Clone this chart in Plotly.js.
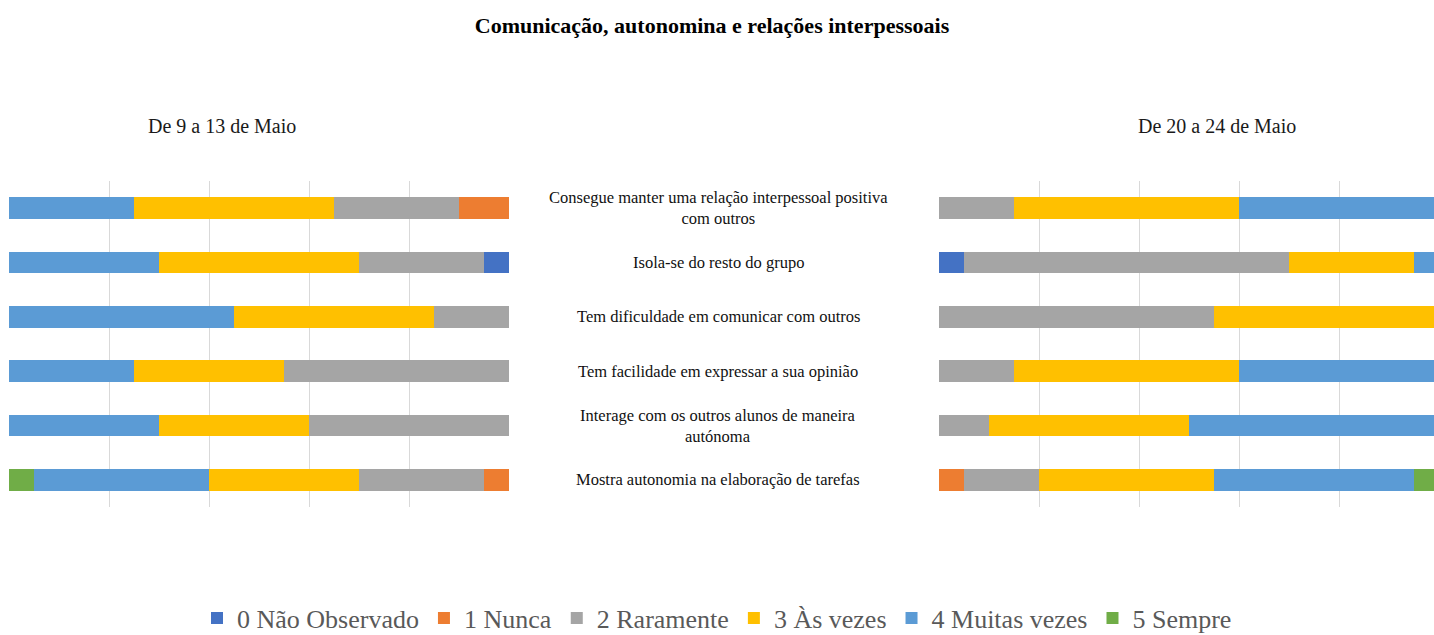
<!DOCTYPE html>
<html>
<head>
<meta charset="utf-8">
<script src="https://cdn.plot.ly/plotly-3.0.1.min.js"></script>
<style>html,body{margin:0;padding:0;background:#fff;}#chart{width:1434px;height:635px;}</style>
</head>
<body>
<div id="chart"></div>
<script>
const categories = [
  "Consegue manter uma relação interpessoal positiva<br>com outros",
  "Isola-se do resto do grupo",
  "Tem dificuldade em comunicar com outros",
  "Tem facilidade em expressar a sua opinião",
  "Interage com os outros alunos de maneira<br>autónoma",
  "Mostra autonomia na elaboração de tarefas"
];
const levels = ["0 Não Observado", "1 Nunca", "2 Raramente", "3 Às vezes", "4 Muitas vezes", "5 Sempre"];
const colors = ["#4472C4", "#ED7D31", "#A5A5A5", "#FFC000", "#5B9BD5", "#70AD47"];
const panelTitles = ["De 9 a 13 de Maio", "De 20 a 24 de Maio"];
const mainTitle = "Comunicação, autonomina e relações interpessoais";

// percentages per level (rows follow categories order)
const week1 = {
  "0 Não Observado": [0, 5, 0, 0, 0, 0],
  "1 Nunca":         [10, 0, 0, 0, 0, 5],
  "2 Raramente":     [25, 25, 15, 45, 40, 25],
  "3 Às vezes":      [40, 40, 40, 30, 30, 30],
  "4 Muitas vezes":  [25, 30, 45, 25, 30, 35],
  "5 Sempre":        [0, 0, 0, 0, 0, 5]
};
const week2 = {
  "0 Não Observado": [0, 5, 0, 0, 0, 0],
  "1 Nunca":         [0, 0, 0, 0, 0, 5],
  "2 Raramente":     [15, 65, 55, 15, 10, 15],
  "3 Às vezes":      [45, 25, 45, 45, 40, 35],
  "4 Muitas vezes":  [40, 5, 0, 40, 50, 40],
  "5 Sempre":        [0, 0, 0, 0, 0, 5]
};

const traces = [];
levels.forEach((lv, i) => {
  traces.push({
    type: 'bar', orientation: 'h', name: lv, legendgroup: lv,
    x: week1[lv], y: categories, xaxis: 'x', yaxis: 'y',
    marker: {color: colors[i], line: {width: 0}}, showlegend: true,
    hoverinfo: 'x+name'
  });
  traces.push({
    type: 'bar', orientation: 'h', name: lv, legendgroup: lv,
    x: week2[lv], y: categories, xaxis: 'x2', yaxis: 'y2',
    marker: {color: colors[i], line: {width: 0}}, showlegend: false,
    hoverinfo: 'x+name'
  });
});

const H = 635, T = 181, B = 128, PH = H - T - B;
const serif = "'Liberation Serif', 'Times New Roman', serif";
const annotations = categories.map(c => ({
  text: c, xref: 'paper', yref: 'y', x: 718/1434, y: c,
  showarrow: false, align: 'center', xanchor: 'center', yanchor: 'middle',
  font: {family: serif, size: 16.5, color: '#111'}
}));
const subY = 1 + (T - 126)/PH;
annotations.push({text: panelTitles[0], xref: 'paper', yref: 'paper', x: 222/1434, y: subY,
  showarrow: false, xanchor: 'center', yanchor: 'middle', font: {family: serif, size: 20, color: '#1a1a1a'}});
annotations.push({text: panelTitles[1], xref: 'paper', yref: 'paper', x: 1217/1434, y: subY,
  showarrow: false, xanchor: 'center', yanchor: 'middle', font: {family: serif, size: 20, color: '#1a1a1a'}});

const gridColor = '#d9d9d9';
const layout = {
  width: 1434, height: H,
  margin: {l: 0, r: 0, t: T, b: B},
  paper_bgcolor: '#fff', plot_bgcolor: '#fff',
  barmode: 'stack', bargap: 0.6,
  title: {text: '<b>' + mainTitle + '</b>', x: 712/1434, xanchor: 'center', y: 1 - 25/H, yanchor: 'middle',
          font: {family: serif, size: 22, color: '#000'}},
  xaxis: {domain: [9/1434, 509/1434], range: [100, 0], dtick: 20, showticklabels: false,
          showgrid: true, gridcolor: gridColor, gridwidth: 1, zeroline: false, showline: false, fixedrange: true},
  xaxis2: {domain: [939/1434, 1], range: [0, 99], dtick: 20, showticklabels: false,
           showgrid: true, gridcolor: gridColor, gridwidth: 1, zeroline: false, showline: false, anchor: 'y2', fixedrange: true},
  yaxis: {autorange: 'reversed', showticklabels: false, showgrid: false, zeroline: false, anchor: 'x'},
  yaxis2: {autorange: 'reversed', showticklabels: false, showgrid: false, zeroline: false, anchor: 'x2'},
  showlegend: true,
  legend: {orientation: 'h', x: 0.5, xanchor: 'center', yref: 'container', y: (H - 618)/H, yanchor: 'middle',
           font: {family: serif, size: 26, color: '#595959'}, traceorder: 'normal', itemwidth: 30},
  annotations: annotations
};

Plotly.newPlot('chart', traces, layout, {displayModeBar: false, staticPlot: true});
</script>
</body>
</html>
